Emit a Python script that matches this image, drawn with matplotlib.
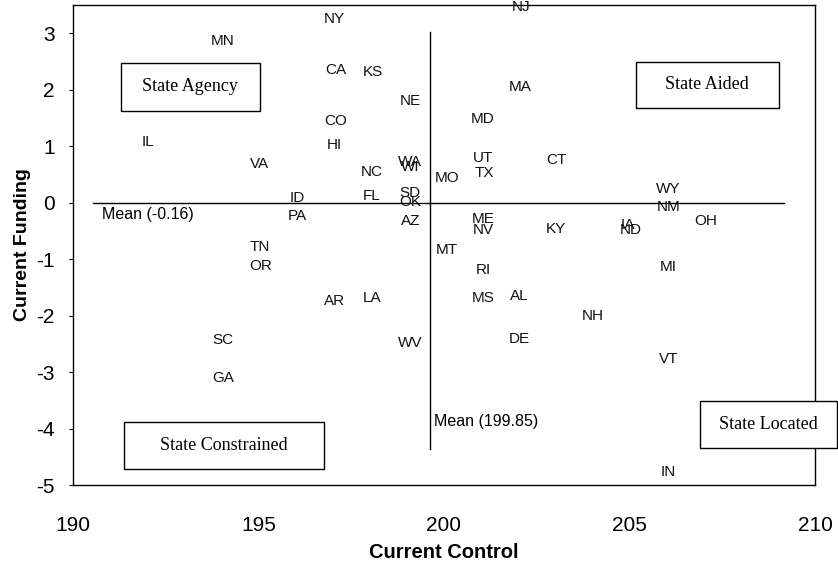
import matplotlib.pyplot as plt
from matplotlib.patches import Rectangle

# dados: sigla do estado, controle atual, financiamento atual
estados = ["NY", "NJ", "MN", "CA", "KS", "MA", "NE", "CO", "MD", "IL",
           "HI", "VA", "UT", "CT", "WA", "WI", "NC", "TX", "MO", "WY",
           "ID", "FL", "SD", "OK", "NM", "PA", "AZ", "ME", "NV", "OH",
           "KY", "IA", "ND", "TN", "MT", "OR", "MI", "RI", "AR", "LA",
           "MS", "AL", "NH", "SC", "WV", "DE", "VT", "GA", "IN"]
controle = [197.04, 202.08, 194.04, 197.09, 198.09, 202.05, 199.08, 197.09, 201.05, 192.02,
            197.06, 195.04, 201.05, 203.02, 199.08, 199.10, 198.06, 201.08, 200.08, 206.04,
            196.06, 198.06, 199.08, 199.08, 206.04, 196.04, 199.10, 201.05, 201.05, 207.04,
            203.02, 204.96, 205.04, 195.04, 200.08, 195.07, 206.04, 201.05, 197.06, 198.06,
            201.05, 202.02, 204.02, 194.04, 199.08, 202.02, 206.04, 194.04, 206.04]
financiamento = [3.25, 3.46, 2.86, 2.35, 2.31, 2.05, 1.80, 1.44, 1.49, 1.07,
                 1.02, 0.68, 0.79, 0.75, 0.72, 0.63, 0.54, 0.52, 0.44, 0.24,
                 0.08, 0.12, 0.17, 0.01, -0.08, -0.24, -0.33, -0.29, -0.48, -0.33,
                 -0.47, -0.40, -0.48, -0.79, -0.84, -1.12, -1.14, -1.19, -1.74, -1.69,
                 -1.69, -1.65, -2.01, -2.43, -2.48, -2.41, -2.77, -3.10, -4.77]

MEDIA_CONTROLE = 199.63   # posição onde a linha aparece no gráfico
MEDIA_FINANC = 0.0
ROTULO_MEDIA_X = "Mean (199.85)"
ROTULO_MEDIA_Y = "Mean (-0.16)"

# quadrantes: texto, (x0, y0, x1, y1) em coordenadas de dados
quadrantes = [
    ("State Agency", (191.30, 1.63, 195.04, 2.47)),
    ("State Aided", (205.17, 1.67, 209.02, 2.50)),
    ("State Constrained", (191.38, -4.71, 196.77, -3.89)),
    ("State Located", (206.89, -4.34, 210.58, -3.52)),
]

plt.rcParams['font.family'] = ['Liberation Sans', 'DejaVu Sans']
plt.rcParams['axes.unicode_minus'] = False

fig = plt.figure(figsize=(8.38, 5.62), dpi=100)
ax = fig.add_axes([0.0868, 0.137, 0.886, 0.854])
ax.set_xlim(190, 210)
ax.set_ylim(-5, 3.5)

for est, x, y in zip(estados, controle, financiamento):
    ax.text(x, y, est, ha='center', va='center', fontsize=11, color='#111111')

# linhas das médias
ax.plot([190.55, 209.15], [MEDIA_FINANC, MEDIA_FINANC], color='black', lw=1.0)
ax.plot([MEDIA_CONTROLE, MEDIA_CONTROLE], [-4.36, 3.02], color='black', lw=1.0)
ax.text(190.78, -0.21, ROTULO_MEDIA_Y, ha='left', va='center', fontsize=11.5)
ax.text(199.73, -3.87, ROTULO_MEDIA_X, ha='left', va='center', fontsize=11.5)

for texto, (x0, y0, x1, y1) in quadrantes:
    ax.add_patch(Rectangle((x0, y0), x1 - x0, y1 - y0, fill=True, facecolor='white',
                           edgecolor='black', lw=1.0, clip_on=False, zorder=3))
    ax.text((x0 + x1) / 2, (y0 + y1) / 2, texto, ha='center', va='center',
            family='Liberation Serif', fontsize=13, zorder=4, clip_on=False)

ax.set_xticks([190, 195, 200, 205, 210])
ax.set_yticks([3, 2, 1, 0, -1, -2, -3, -4, -5])
ax.tick_params(axis='x', length=0, pad=22, labelsize=15)
ax.tick_params(axis='y', length=3, width=0.8, pad=10, labelsize=15)
for sp in ax.spines.values():
    sp.set_linewidth(1.0)

ax.set_xlabel("Current Control", fontsize=14.5, fontweight='bold', labelpad=6)
ax.set_ylabel("Current Funding", fontsize=14, fontweight='bold', labelpad=4)

plt.savefig("out.png", dpi=100)
